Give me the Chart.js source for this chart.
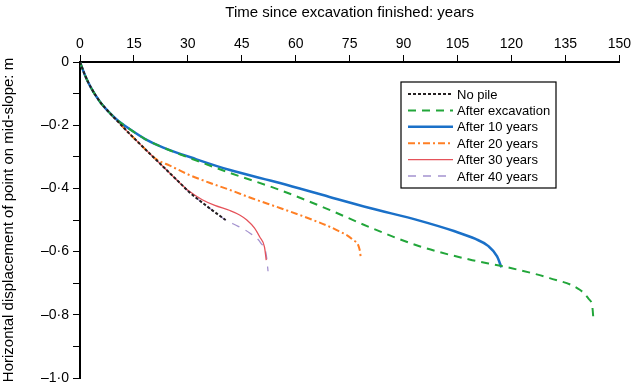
<!DOCTYPE html>
<html>
<head>
<meta charset="utf-8">
<script src="https://cdn.jsdelivr.net/npm/chart.js@4"></script>
<style>
  html, body { margin: 0; padding: 0; background: #fff; }
  #wrap { width: 633px; height: 392px; }
</style>
</head>
<body>
<div id="wrap"><canvas id="slopeChart" width="633" height="392"></canvas></div>
<script>
// years since excavation finished / horizontal displacement (m)
const noPile = [[0,0],[1.5,-0.045],[3,-0.08],[5.5,-0.125],[8,-0.158],[10.5,-0.188],[13,-0.218],[16,-0.252],[18.5,-0.28],[21.3,-0.311],[25,-0.352],[28,-0.385],[30.5,-0.413],[34,-0.445],[37,-0.471],[40.5,-0.5]];
const afterExcavation = [[0,0],[1.5,-0.045],[3,-0.08],[5.5,-0.125],[8,-0.158],[10.5,-0.185],[13.9,-0.213],[18,-0.243],[23,-0.27],[32.4,-0.312],[41.7,-0.351],[55.6,-0.405],[69.4,-0.468],[81,-0.525],[94.4,-0.583],[108.3,-0.625],[118.6,-0.649],[130.6,-0.684],[138.9,-0.72],[141.5,-0.75],[142.5,-0.775],[142.8,-0.815]];
const after10 = [[0,0],[1.5,-0.045],[3,-0.08],[5.5,-0.125],[8,-0.158],[10.5,-0.185],[13.9,-0.213],[18,-0.243],[23,-0.27],[32.4,-0.308],[41.7,-0.342],[55.6,-0.383],[69.4,-0.427],[80.6,-0.462],[94.4,-0.502],[104,-0.535],[110,-0.56],[113.5,-0.582],[116,-0.615],[117.2,-0.65]];
const after20 = [[0,0],[1.5,-0.045],[3,-0.08],[5.5,-0.125],[8,-0.158],[10.5,-0.188],[13,-0.218],[16,-0.252],[18.5,-0.28],[21.3,-0.308],[25,-0.328],[30.5,-0.358],[36,-0.382],[41.7,-0.405],[48,-0.432],[55.6,-0.462],[64.8,-0.5],[71.4,-0.532],[75.9,-0.563],[77.8,-0.595],[78.1,-0.62]];
const after30 = [[0,0],[1.5,-0.045],[3,-0.08],[5.5,-0.125],[8,-0.158],[10.5,-0.188],[13,-0.218],[16,-0.252],[18.5,-0.28],[21.3,-0.311],[25,-0.352],[28,-0.385],[30.5,-0.41],[34,-0.436],[37.5,-0.454],[41.7,-0.47],[44.4,-0.484],[46.4,-0.5],[48.5,-0.525],[50,-0.554],[51.3,-0.585],[51.8,-0.627]];
const after40 = [[0,0],[1.5,-0.045],[3,-0.08],[5.5,-0.125],[8,-0.158],[10.5,-0.188],[13,-0.218],[16,-0.252],[18.5,-0.28],[21.3,-0.311],[25,-0.352],[28,-0.385],[30.5,-0.413],[34,-0.445],[37,-0.471],[40.5,-0.5],[44,-0.52],[47.2,-0.541],[50.3,-0.573],[51.8,-0.61],[52.3,-0.662]];

const seriesNames = ['No pile', 'After excavation', 'After 10 years', 'After 20 years', 'After 30 years', 'After 40 years'];
const xTicks = [0, 15, 30, 45, 60, 75, 90, 105, 120, 135, 150];

const toPts = arr => arr.map(p => ({ x: p[0], y: p[1] }));

const styles = [
  { color: '#231f20', width: 2, dash: [3, 2] },
  { color: '#22a63a', width: 2, dash: [8, 6] },
  { color: '#1a70c8', width: 2.5, dash: [] },
  { color: '#ff7f24', width: 2, dash: [7, 3, 2, 3] },
  { color: '#e5525a', width: 1.3, dash: [] },
  { color: '#a492cf', width: 1.3, dash: [8, 7] }
];
const allData = [noPile, afterExcavation, after10, after20, after30, after40];

// draws the boxed legend inside the plot area
const boxLegend = {
  id: 'boxLegend',
  afterDraw(chart) {
    const ctx = chart.ctx;
    const x0 = 401, y0 = 82, w = 155, h = 106;
    ctx.save();
    ctx.strokeStyle = '#000';
    ctx.lineWidth = 1.2;
    ctx.strokeRect(x0, y0, w, h);
    ctx.font = '13px "Liberation Sans", Arial, sans-serif';
    ctx.textBaseline = 'middle';
    ctx.fillStyle = '#000';
    chart.data.datasets.forEach((ds, i) => {
      const yy = 94 + i * 16.4;
      ctx.beginPath();
      ctx.strokeStyle = ds.borderColor;
      ctx.lineWidth = ds.borderWidth;
      ctx.setLineDash(ds.borderDash);
      ctx.moveTo(408, yy);
      ctx.lineTo(453, yy);
      ctx.stroke();
      ctx.setLineDash([]);
      ctx.fillText(ds.label, 457, yy + 1);
    });
    ctx.restore();
  }
};

const fmtY = v => {
  const r = Math.round(v * 10);
  if (r === 0) return '0';
  if (r % 2 !== 0) return '';
  const s = Math.abs(r / 10).toFixed(1).replace('.', '\u00b7');
  return '\u2013' + s;
};

new Chart(document.getElementById('slopeChart'), {
  type: 'line',
  data: {
    datasets: allData.map((d, i) => ({
      label: seriesNames[i],
      data: toPts(d),
      borderColor: styles[i].color,
      borderWidth: styles[i].width,
      borderDash: styles[i].dash,
      pointRadius: 0,
      fill: false,
      cubicInterpolationMode: 'monotone'
    }))
  },
  options: {
    responsive: false,
    animation: false,
    layout: { padding: { left: 0, top: 0, right: 13, bottom: 14 } },
    plugins: { legend: { display: false }, tooltip: { enabled: false } },
    scales: {
      x: {
        type: 'linear',
        position: 'top',
        min: 0, max: 150,
        afterBuildTicks: s => { s.ticks = xTicks.map(v => ({ value: v })); },
        afterFit: s => { s.height = 62; },
        ticks: { color: '#000', font: { size: 14, family: '"Liberation Sans", Arial' }, padding: 2, maxRotation: 0 },
        grid: { drawOnChartArea: false, tickLength: 7, color: '#000', tickWidth: 1 },
        border: { display: true, color: '#000', width: 2 },
        title: { display: true, text: 'Time since excavation finished: years', color: '#000', font: { size: 15, family: '"Liberation Sans", Arial' }, padding: { top: 4, bottom: 2 } }
      },
      y: {
        type: 'linear',
        min: -1, max: 0,
        ticks: { stepSize: 0.1, color: '#000', font: { size: 14, family: '"Liberation Sans", Arial' }, padding: 4, callback: fmtY },
        afterFit: s => { s.width = 80; },
        grid: { drawOnChartArea: false, tickLength: 7, color: '#000', tickWidth: 1 },
        border: { display: true, color: '#000', width: 2 },
        title: { display: true, text: 'Horizontal displacement of point on mid-slope: m', color: '#000', font: { size: 15, family: '"Liberation Sans", Arial' }, padding: { top: 0, bottom: 2 } }
      }
    }
  },
  plugins: [boxLegend]
});
</script>
</body>
</html>
